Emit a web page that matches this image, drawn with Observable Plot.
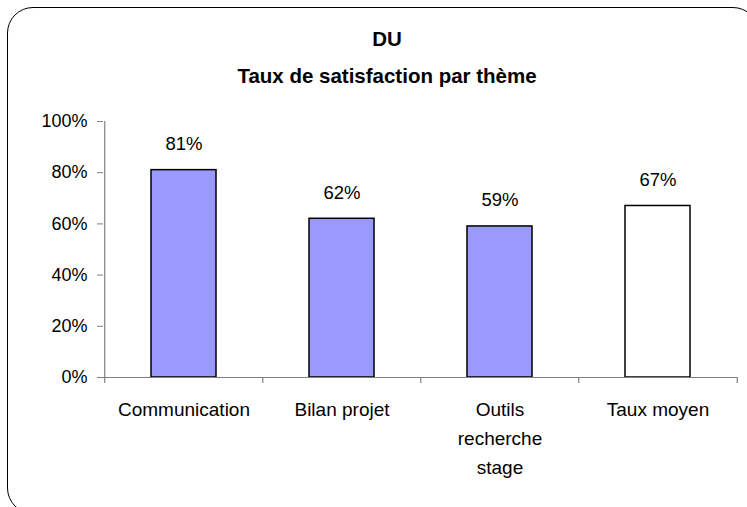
<!DOCTYPE html>
<html><head><meta charset="utf-8">
<script src="https://cdn.jsdelivr.net/npm/d3@7"></script>
<script src="https://cdn.jsdelivr.net/npm/@observablehq/plot@0.6"></script>
<style>
body{margin:0;background:#fff;font-family:"Liberation Sans",Arial,sans-serif;}
#wrap{position:relative;width:747px;height:507px;overflow:hidden;}
#frame{position:absolute;left:7px;top:7px;width:750px;height:505px;border:1.5px solid #000;border-radius:26px;}
#title{position:absolute;left:187px;width:400px;top:20px;text-align:center;font-weight:bold;font-size:20.5px;line-height:37px;color:#000;}
#chart{position:absolute;left:0;top:0;}
</style></head>
<body><div id="wrap"><div id="frame"></div>
<div id="title">DU<br>Taux de satisfaction par thème</div>
<div id="chart"></div></div>
<script>
const categories = ["Communication", "Bilan projet", "Outils recherche stage", "Taux moyen"];
const labels = ["Communication", "Bilan projet", "Outils\nrecherche\nstage", "Taux moyen"];
const values = [0.81, 0.62, 0.59, 0.67];
const fills = ["#9999FF", "#9999FF", "#9999FF", "#FFFFFF"];
const yTicks = [0, 0.2, 0.4, 0.6, 0.8, 1.0];

const data = categories.map((c, i) => ({cat: c, label: labels[i], value: values[i], fill: fills[i]}));
const W = 747, H = 507, mL = 103, mR = 10, mT = 121, mB = 130;
const step = (W - mL - mR) / categories.length;
const tickLen = 6 / (H - mT - mB);
const pct = d => Math.round(d * 100) + "%";

const chart = Plot.plot({
  width: W, height: H,
  marginLeft: mL, marginRight: mR, marginTop: mT, marginBottom: mB,
  style: {fontFamily: "'Liberation Sans', Arial, sans-serif", fontSize: "18px", color: "#000", background: "transparent"},
  x: {type: "band", domain: categories, paddingInner: 0.59, paddingOuter: 0.295, axis: null},
  y: {domain: [0, 1], axis: null},
  marks: [
    Plot.barY(data, {x: "cat", y: "value", fill: "fill", stroke: "#000", strokeWidth: 1.5}),
    Plot.ruleY([0], {stroke: "#808080", strokeWidth: 1.2}),
    Plot.ruleX([categories[0]], {x: d => d, y1: 0, y2: 1, dx: -step / 2, stroke: "#808080", strokeWidth: 1.2}),
    Plot.axisY({ticks: yTicks, tickFormat: pct, label: null, tickSize: 6, tickPadding: 10, stroke: "#808080", fill: "#000", fontSize: 18}),
    Plot.ruleX(categories, {x: d => d, y1: 0, y2: -tickLen, dx: -step / 2, stroke: "#808080", strokeWidth: 1.2}),
    Plot.ruleX([categories[categories.length - 1]], {x: d => d, y1: 0, y2: -tickLen, dx: step / 2, stroke: "#808080", strokeWidth: 1.2}),
    Plot.text(data, {x: "cat", y: 0, text: "label", lineAnchor: "top", dy: 18, lineHeight: 1.53, fontSize: 19, fill: "#000"}),
    Plot.text(data, {x: "cat", y: "value", text: d => pct(d.value), dy: -26, fontSize: 18.5, fill: "#000"})
  ]
});
document.getElementById("chart").appendChild(chart);
</script></body></html>
